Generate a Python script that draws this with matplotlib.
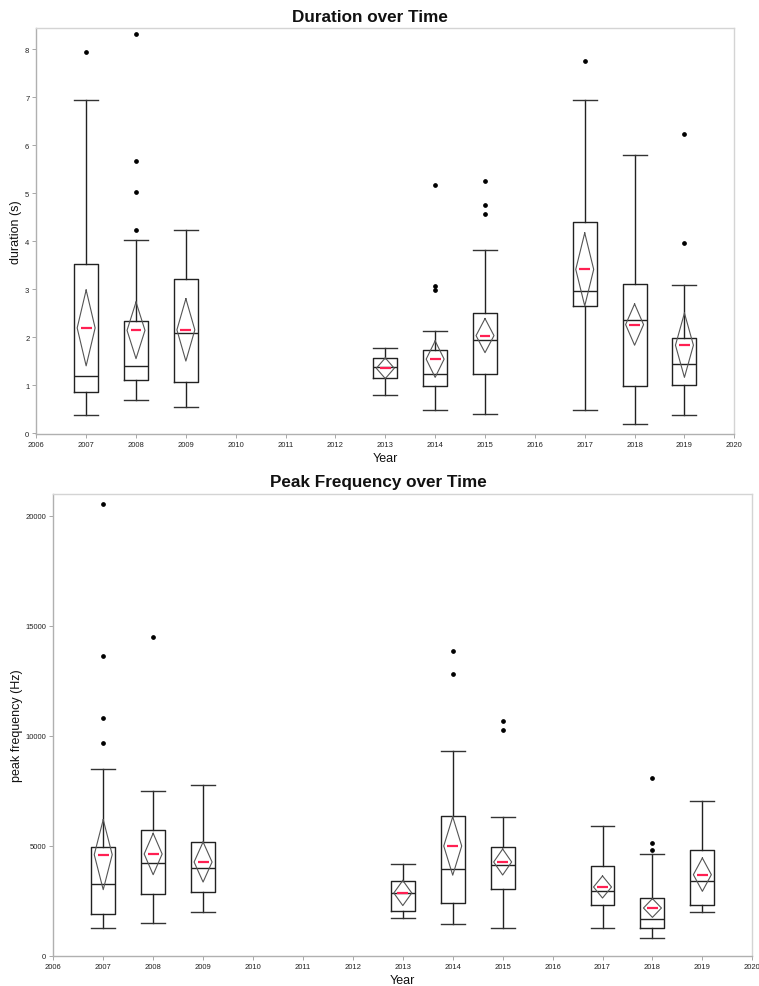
import matplotlib
matplotlib.use("Agg")
import matplotlib.pyplot as plt

plt.rcParams['font.family'] = ['Liberation Sans', 'DejaVu Sans']

years = [2007, 2008, 2009, 2013, 2014, 2015, 2017, 2018, 2019]

# Duration (s): five-number summaries, means, mean-diamond half heights, outliers
dur_low = [0.38, 0.68, 0.54, 0.79, 0.49, 0.40, 0.49, 0.18, 0.38]
dur_q1 = [0.86, 1.10, 1.06, 1.15, 0.99, 1.24, 2.64, 0.99, 1.01]
dur_med = [1.195, 1.40, 2.08, 1.37, 1.24, 1.93, 2.95, 2.35, 1.44]
dur_q3 = [3.52, 2.34, 3.22, 1.56, 1.72, 2.50, 4.40, 3.10, 1.99]
dur_high = [6.95, 4.02, 4.24, 1.78, 2.13, 3.81, 6.94, 5.79, 3.09]
dur_mean = [2.19, 2.14, 2.15, 1.35, 1.54, 2.03, 3.41, 2.26, 1.83]
dur_ci = [0.79, 0.59, 0.65, 0.215, 0.38, 0.355, 0.76, 0.43, 0.67]
dur_out = [[7.94], [8.32, 5.66, 5.02, 4.24], [], [], [5.17, 3.07, 2.98],
           [5.26, 4.75, 4.57], [7.75], [], [6.24, 3.97]]

# Peak frequency (Hz)
pf_low = [1272, 1499, 1983, 1726, 1438, 1272, 1272, 802, 1983]
pf_q1 = [1908, 2816, 2892, 2044, 2392, 3043, 2316, 1272, 2316]
pf_med = [3270, 4209, 3997, 2846, 3952, 4133, 2937, 1665, 3391]
pf_q3 = [4936, 5723, 5163, 3422, 6374, 4936, 4103, 2619, 4800]
pf_high = [8478, 7509, 7752, 4164, 9296, 6329, 5920, 4618, 7040]
pf_mean = [4603, 4633, 4269, 2861, 4996, 4269, 3134, 2180, 3694]
pf_ci = [1590, 940, 910, 570, 1325, 590, 500, 425, 757]
pf_out = [[20515, 13626, 10825, 9690], [14504], [], [], [13868, 12824],
          [10659, 10250], [], [8100, 5148, 4815], []]

year_ticks = list(range(2006, 2021))

W, H = 759, 987
fig = plt.figure(figsize=(W / 100, H / 100), dpi=100)


def px_axes(left, top, right, bottom):
    return fig.add_axes([left / W, 1 - bottom / H, (right - left) / W, (bottom - top) / H])


def draw_panel(ax, low, q1, med, q3, high, mean, ci, outl, ylim, yticks, ylabel):
    stats = []
    for i in range(len(years)):
        stats.append(dict(whislo=low[i], q1=q1[i], med=med[i], q3=q3[i],
                          whishi=high[i], fliers=outl[i], mean=mean[i]))
    line = dict(color='#222222', linewidth=1.0)
    ax.bxp(stats, positions=years, widths=0.48, showfliers=True,
           boxprops=line, whiskerprops=line, capprops=dict(color='#333333', linewidth=1.0),
           medianprops=dict(color='#222222', linewidth=1.0),
           flierprops=dict(marker='o', markerfacecolor='black', markeredgecolor='black',
                           markersize=2.4, linestyle='none'),
           capwidths=0.48, manage_ticks=False)
    dw = 0.18
    for x, m, c in zip(years, mean, ci):
        ax.plot([x, x + dw, x, x - dw, x], [m + c, m, m - c, m, m + c],
                color='#555555', linewidth=0.8, zorder=3)
    ax.hlines(mean, [x - 0.11 for x in years], [x + 0.11 for x in years],
              color='#ff2052', linewidth=1.6, zorder=4)
    ax.set_xlim(2006, 2020)
    ax.set_ylim(*ylim)
    ax.set_xticks(year_ticks)
    ax.set_xticklabels([str(y) for y in year_ticks])
    ax.set_yticks(yticks)
    ax.tick_params(axis='both', labelsize=5.5, length=3, width=0.6, color='#999999',
                   labelcolor='#222222', pad=2)
    for s in ['top', 'right']:
        ax.spines[s].set_color('#d4d4d4')
        ax.spines[s].set_linewidth(1.0)
    for s in ['left', 'bottom']:
        ax.spines[s].set_color('#b0b0b0')
        ax.spines[s].set_linewidth(1.0)
    ax.set_ylabel(ylabel, fontsize=9, color='#111111')


ax1 = px_axes(36.3, 29, 734.3, 435)
draw_panel(ax1, dur_low, dur_q1, dur_med, dur_q3, dur_high, dur_mean, dur_ci, dur_out,
           (-0.02, 8.44), list(range(0, 9)), 'duration (s)')
ax1.yaxis.set_label_coords(-14.6 / 698, 0.5)
fig.text(369.7 / W, 1 - 17 / H, 'Duration over Time', ha='center', va='center',
         fontsize=12.3, fontweight='bold', color='#111111')
fig.text(385 / W, 1 - 459 / H, 'Year', ha='center', va='center', fontsize=9, color='#111111')

ax2 = px_axes(53.3, 495, 752.3, 957)
draw_panel(ax2, pf_low, pf_q1, pf_med, pf_q3, pf_high, pf_mean, pf_ci, pf_out,
           (0, 20985), [0, 5000, 10000, 15000, 20000], 'peak frequency (Hz)')
ax2.yaxis.set_label_coords(-30.6 / 699, 0.5)
fig.text(378.8 / W, 1 - 483 / H, 'Peak Frequency over Time', ha='center', va='center',
         fontsize=12.3, fontweight='bold', color='#111111')
fig.text(402.7 / W, 1 - 981 / H, 'Year', ha='center', va='center', fontsize=9, color='#111111')

fig.savefig('out.png', dpi=100, facecolor='white')
